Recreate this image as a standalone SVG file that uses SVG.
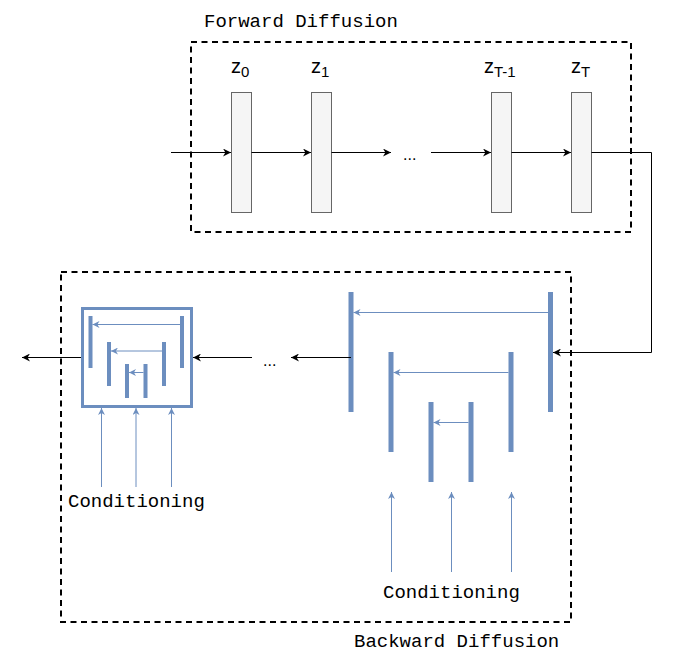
<svg xmlns="http://www.w3.org/2000/svg" width="673" height="658" viewBox="0 0 673 658">
<style>
.frame{fill:none;stroke:#000;stroke-width:2;stroke-dasharray:6 4.5}
.mono{font-family:"Liberation Mono",monospace;font-size:19px;fill:#000}
.lab{font-family:"Liberation Sans",Arial,sans-serif;font-size:20px;fill:#000}
.sub{font-size:15px}
.blk{fill:#f5f5f5;stroke:#666;stroke-width:1}
.k{stroke:#000;stroke-width:1;fill:none}
.b{stroke:#6c8ebf;stroke-width:1;fill:none}
.bar{fill:#6c8ebf}
</style>
<defs>
<marker id="ak" viewBox="0 0 10 10" refX="10" refY="5" markerWidth="9" markerHeight="8" markerUnits="userSpaceOnUse" orient="auto">
<path d="M0,0 L10,5 L0,10 L3,5 z" fill="#000"/>
</marker>
<marker id="ab" viewBox="0 0 10 10" refX="10" refY="5" markerWidth="8" markerHeight="7" markerUnits="userSpaceOnUse" orient="auto">
<path d="M0,0 L10,5 L0,10 L3,5 z" fill="#6c8ebf"/>
</marker>
</defs>

<g id="forward-frame">
<rect class="frame" x="191" y="42" width="440" height="190"/>
<text class="mono" x="204" y="27">Forward Diffusion</text>
</g>
<g id="backward-frame">
<rect class="frame" x="61" y="272" width="510" height="350"/>
<text class="mono" x="354" y="647">Backward Diffusion</text>
</g>

<g id="z0"><rect class="blk" x="231.5" y="92.5" width="20" height="120"/><text class="lab" x="231" y="73">z<tspan class="sub" dy="4">0</tspan></text></g>
<g id="z1"><rect class="blk" x="311.5" y="92.5" width="20" height="120"/><text class="lab" x="311" y="73">z<tspan class="sub" dy="4">1</tspan></text></g>
<g id="zT-1"><rect class="blk" x="491.5" y="92.5" width="20" height="120"/><text class="lab" x="484" y="73">z<tspan class="sub" dy="4">T-1</tspan></text></g>
<g id="zT"><rect class="blk" x="571.5" y="92.5" width="20" height="120"/><text class="lab" x="571" y="73">z<tspan class="sub" dy="4">T</tspan></text></g>
<g id="dots-forward"><text class="lab" x="403" y="160" style="font-size:16px">...</text></g>

<g id="unet-large">
<rect class="bar" x="348.5" y="292" width="5" height="120"/>
<rect class="bar" x="548" y="292" width="5" height="120"/>
<rect class="bar" x="388.5" y="352" width="5" height="100"/>
<rect class="bar" x="508.5" y="352" width="5" height="100"/>
<rect class="bar" x="428.5" y="402" width="5" height="80"/>
<rect class="bar" x="468.5" y="402" width="5" height="80"/>
<path class="b" d="M548 312.5 H353.5" marker-end="url(#ab)"/>
<path class="b" d="M508.5 372.5 H393.5" marker-end="url(#ab)"/>
<path class="b" d="M468.5 422.5 H433.5" marker-end="url(#ab)"/>
<path class="b" d="M391.5 572 V492" marker-end="url(#ab)"/>
<path class="b" d="M451.5 572 V492" marker-end="url(#ab)"/>
<path class="b" d="M511.5 572 V492" marker-end="url(#ab)"/>
<text class="mono" x="383" y="598">Conditioning</text>
</g>

<g id="unet-small">
<rect x="82.5" y="308.5" width="109" height="98" fill="#fff" stroke="#6c8ebf" stroke-width="3"/>
<rect class="bar" x="88.5" y="316" width="4" height="52"/>
<rect class="bar" x="180" y="316" width="4" height="52"/>
<rect class="bar" x="107" y="342" width="4" height="44"/>
<rect class="bar" x="162" y="342" width="4" height="44"/>
<rect class="bar" x="125" y="364" width="4" height="34"/>
<rect class="bar" x="143.5" y="364" width="4" height="34"/>
<path class="b" d="M180 324.5 H92.5" marker-end="url(#ab)"/>
<path class="b" d="M162 351 H111" marker-end="url(#ab)"/>
<path class="b" d="M143.5 372.5 H129" marker-end="url(#ab)"/>
<path class="b" d="M101.5 487 V408" marker-end="url(#ab)"/>
<path class="b" d="M136 487 V408" marker-end="url(#ab)"/>
<path class="b" d="M171.5 487 V408" marker-end="url(#ab)"/>
<text class="mono" x="68" y="507">Conditioning</text>
</g>
<g id="dots-backward"><text class="lab" x="263" y="366" style="font-size:16px">...</text></g>

<g id="connectors">
<path class="k" d="M171 152.5 H231" marker-end="url(#ak)"/>
<path class="k" d="M251.5 152.5 H311" marker-end="url(#ak)"/>
<path class="k" d="M331.5 152.5 H391" marker-end="url(#ak)"/>
<path class="k" d="M431 152.5 H491" marker-end="url(#ak)"/>
<path class="k" d="M511.5 152.5 H571" marker-end="url(#ak)"/>
<path class="k" d="M591.5 152.5 H651.5 V352.5 H553" marker-end="url(#ak)"/>
<path class="k" d="M351 357.5 H291" marker-end="url(#ak)"/>
<path class="k" d="M252 357.5 H193" marker-end="url(#ak)"/>
<path class="k" d="M81 357.5 H22" marker-end="url(#ak)"/>
</g>
</svg>
